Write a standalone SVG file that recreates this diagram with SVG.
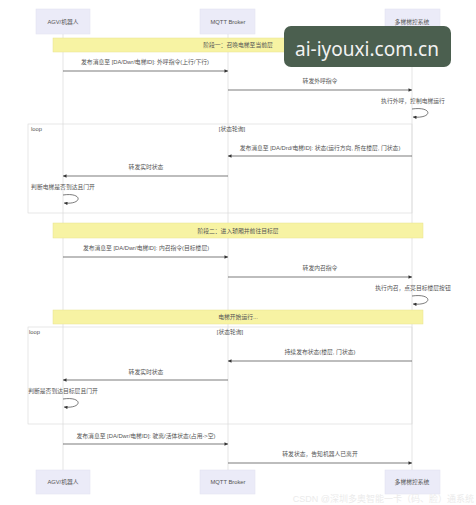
<svg xmlns="http://www.w3.org/2000/svg" width="476" height="505" viewBox="0 0 476 505">
<defs>
<marker id="ah" viewBox="0 0 10 10" refX="10" refY="5" markerUnits="userSpaceOnUse" markerWidth="4" markerHeight="3.5" orient="auto"><path d="M0,0 L10,5 L0,10 z" fill="#333"/></marker>
</defs>
<style>
.t{font-family:"Liberation Sans","Noto Sans CJK SC",sans-serif;font-size:5.8px;fill:#555;text-anchor:middle;dominant-baseline:central}
.tl{text-anchor:start}
.actor rect{fill:#ebebf8;stroke:#e0e0f0;stroke-width:0.5}
.life{stroke:#d4d4d4;stroke-width:0.6}
.msg{stroke:#444;stroke-width:0.7;fill:none;marker-end:url(#ah)}
.note{fill:#f7f3a3;stroke:#e8e290;stroke-width:0.5}
.loop{fill:none;stroke:#d8d8d8;stroke-width:0.6}
</style>
<rect width="476" height="505" fill="#ffffff"/>
<g id="lifelines">
<line class="life" x1="63" y1="34" x2="63" y2="470"/>
<line class="life" x1="228" y1="34" x2="228" y2="470"/>
<line class="life" x1="412" y1="34" x2="412" y2="470"/>
</g>
<g id="loop1">
<rect class="loop" x="28" y="124" width="384" height="89"/>
<text class="t tl" x="31" y="128.5">loop</text>
<text class="t" x="232" y="128.5">[状态轮询]</text>
</g>
<g id="loop2">
<rect class="loop" x="28" y="327" width="384" height="97"/>
<text class="t tl" x="29" y="332">loop</text>
<text class="t" x="230" y="332">[状态轮询]</text>
</g>
<g id="note1"><rect class="note" x="53" y="38" width="370" height="14"/><text class="t" x="238" y="45">阶段一：召唤电梯至当前层</text></g>
<g id="note2"><rect class="note" x="53" y="223" width="370" height="15"/><text class="t" x="238" y="230.5">阶段二：进入轿厢并前往目标层</text></g>
<g id="note3"><rect class="note" x="53" y="310" width="370" height="14"/><text class="t" x="238" y="317">电梯开始运行...</text></g>
<g id="actor-agv-top" class="actor"><rect x="36" y="9" width="54" height="25"/><text class="t" x="63" y="21.5">AGV/机器人</text></g>
<g id="actor-mqtt-top" class="actor"><rect x="200" y="9" width="55" height="25"/><text class="t" x="228" y="21.5">MQTT Broker</text></g>
<g id="actor-elev-top" class="actor"><rect x="385" y="9" width="55" height="25"/><text class="t" x="412" y="21.5">多梯梯控系统</text></g>
<g id="actor-agv-bottom" class="actor"><rect x="36" y="470" width="54" height="24"/><text class="t" x="63" y="482">AGV/机器人</text></g>
<g id="actor-mqtt-bottom" class="actor"><rect x="200" y="470" width="55" height="24"/><text class="t" x="228" y="482">MQTT Broker</text></g>
<g id="actor-elev-bottom" class="actor"><rect x="385" y="470" width="55" height="24"/><text class="t" x="412" y="482">多梯梯控系统</text></g>
<g id="connectors">
<line class="msg" x1="63" y1="71" x2="228" y2="71"/>
<text class="t" x="145" y="61.5">发布消息至 [DA/Dwr/电梯ID]: 外呼指令(上行/下行)</text>
<line class="msg" x1="228" y1="90" x2="412" y2="90"/>
<text class="t" x="320" y="81">转发外呼指令</text>
<text class="t" x="413" y="100.5">执行外呼，控制电梯运行</text>
<path class="msg" d="M412,109 C433,106 433,119 413,117"/>
<line class="msg" x1="412" y1="156" x2="228" y2="156"/>
<text class="t" x="320" y="147.5">发布消息至 [DA/Drd/电梯ID]: 状态(运行方向, 所在楼层, 门状态)</text>
<line class="msg" x1="228" y1="176" x2="63" y2="176"/>
<text class="t" x="146" y="167">转发实时状态</text>
<text class="t" x="63" y="187">判断电梯是否到达且门开</text>
<path class="msg" d="M63,195 C83,192 83,205 64,203"/>
<line class="msg" x1="63" y1="257" x2="228" y2="257"/>
<text class="t" x="146" y="248">发布消息至 [DA/Dwr/电梯ID]: 内召指令(目标楼层)</text>
<line class="msg" x1="228" y1="277" x2="412" y2="277"/>
<text class="t" x="320" y="268">转发内召指令</text>
<text class="t" x="413" y="288">执行内召，点亮目标楼层按钮</text>
<path class="msg" d="M412,296 C433,293 433,306 413,304"/>
<line class="msg" x1="412" y1="361" x2="228" y2="361"/>
<text class="t" x="320" y="352">持续发布状态(楼层, 门状态)</text>
<line class="msg" x1="228" y1="380" x2="63" y2="380"/>
<text class="t" x="146" y="371.5">转发实时状态</text>
<text class="t" x="63" y="391">判断是否到达目标层且门开</text>
<path class="msg" d="M63,399 C83,396 83,409 64,407"/>
<line class="msg" x1="63" y1="444" x2="228" y2="444"/>
<text class="t" x="146" y="435.5">发布消息至 [DA/Dwr/电梯ID]: 驶离/活体状态(占用->空)</text>
<line class="msg" x1="228" y1="463" x2="412" y2="463"/>
<text class="t" x="320" y="454">转发状态，告知机器人已离开</text>
</g>
<text x="474" y="499" font-family="Liberation Sans,'Noto Sans CJK SC',sans-serif" font-size="9" fill="#ebebeb" text-anchor="end" dominant-baseline="central">CSDN @深圳多奥智能一卡（码、脸）通系统</text>
<g id="overlay">
<rect x="284" y="26" width="167" height="41" rx="7" fill="#4b5f4f"/>
<text x="295" y="56" font-family="'Noto Sans',sans-serif" font-size="20" fill="#f2f2f2" textLength="144" lengthAdjust="spacingAndGlyphs">ai-iyouxi.com.cn</text>
</g>
</svg>
